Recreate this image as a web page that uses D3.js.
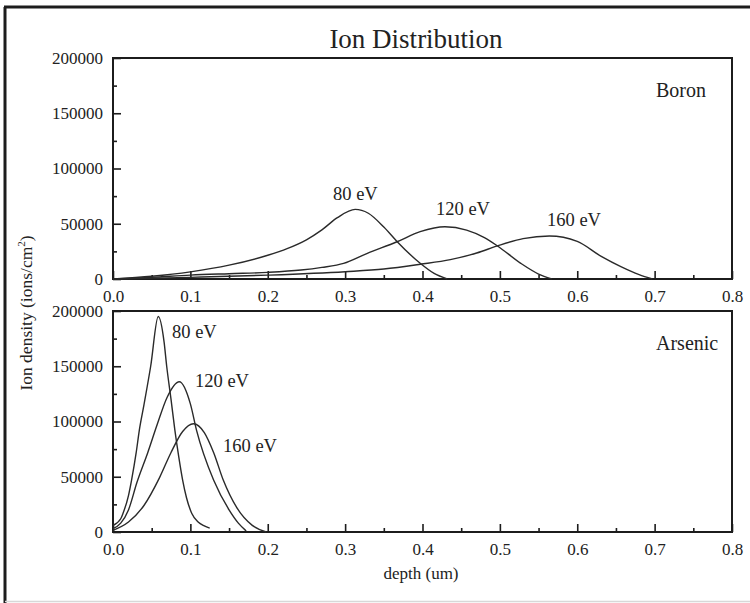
<!DOCTYPE html>
<html>
<head>
<meta charset="utf-8">
<script src="https://cdn.jsdelivr.net/npm/d3@7"></script>
<style>
  body { margin: 0; background: #fff; }
  svg { display: block; font-family: "Liberation Serif", "DejaVu Serif", serif; }
</style>
</head>
<body>
<svg id="chart" width="750" height="603"></svg>
<script>
// depth (um) and ion density (ions/cm^2)
var boron80x   = [0, 0.05, 0.1, 0.15, 0.2, 0.225, 0.25, 0.27, 0.29, 0.313, 0.33, 0.35, 0.367, 0.397, 0.415, 0.432];
var boron80y   = [0, 2500, 6500, 12500, 21500, 27500, 35500, 44500, 55500, 63000, 59500, 47000, 34000, 14200, 5000, 0];
var boron120x  = [0, 0.05, 0.1, 0.15, 0.2, 0.243, 0.27, 0.298, 0.328, 0.367, 0.397, 0.429, 0.457, 0.48, 0.497, 0.527, 0.55, 0.567];
var boron120y  = [0, 1500, 3500, 4800, 6000, 8100, 10500, 14100, 23000, 33700, 42800, 47300, 44300, 37500, 29900, 14200, 4500, 0];
var boron160x  = [0, 0.1, 0.2, 0.3, 0.35, 0.397, 0.436, 0.47, 0.497, 0.53, 0.564, 0.6, 0.631, 0.657, 0.68, 0.697];
var boron160y  = [0, 1500, 3500, 6600, 9000, 13300, 17500, 23500, 30000, 36500, 38900, 34000, 20500, 11000, 4000, 0];

var arsenic80x  = [0, 0.01, 0.013, 0.02, 0.024, 0.03, 0.034, 0.04, 0.0487, 0.0585, 0.066, 0.0694, 0.075, 0.08, 0.085, 0.09, 0.095, 0.1017, 0.11, 0.118, 0.125];
var arsenic80y  = [6000, 12000, 17000, 33000, 47000, 72000, 92000, 115000, 150000, 195000, 172000, 150000, 120000, 92000, 68000, 47000, 31000, 17000, 9000, 5500, 3500];
var arsenic120x = [0, 0.01, 0.02, 0.031, 0.045, 0.057, 0.07, 0.0857, 0.1, 0.108, 0.13, 0.15, 0.162, 0.172];
var arsenic120y = [3000, 8000, 20000, 45000, 72000, 97000, 122000, 136000, 116000, 92000, 47000, 20000, 8000, 1000];
var arsenic160x = [0, 0.02, 0.04, 0.06, 0.075, 0.09, 0.104, 0.118, 0.13, 0.1425, 0.16, 0.18, 0.198];
var arsenic160y = [1500, 9000, 24000, 49000, 72000, 91000, 98000, 90000, 72000, 47000, 22000, 6000, 0];

var energyLabels = ["80 eV", "120 eV", "160 eV"];
var panelNames = ["Boron", "Arsenic"];
var xTicks = [0, 0.1, 0.2, 0.3, 0.4, 0.5, 0.6, 0.7, 0.8];
var yTicks = [0, 50000, 100000, 150000, 200000];

var svg = d3.select("#chart");
var ink = "#1c1c1c";

// outer frame of the scanned figure
svg.append("line").attr("x1", 5).attr("y1", 7).attr("x2", 5).attr("y2", 603)
    .attr("stroke", ink).attr("stroke-width", 3);
svg.append("line").attr("x1", 4).attr("y1", 7).attr("x2", 750).attr("y2", 7)
    .attr("stroke", ink).attr("stroke-width", 3);
svg.append("line").attr("x1", 5).attr("y1", 601.5).attr("x2", 750).attr("y2", 601.5)
    .attr("stroke", "#d8d8d8").attr("stroke-width", 1.5);

var x = d3.scaleLinear().domain([0, 0.8]).range([113, 732]);

function zip(xs, ys) {
    return xs.map((d, i) => [d, ys[i]]);
}

var panels = [
    {name: panelNames[0], top: 58, bottom: 279,
     curves: [zip(boron80x, boron80y), zip(boron120x, boron120y), zip(boron160x, boron160y)],
     labels: [[333, 200], [436, 215], [547, 226]]},
    {name: panelNames[1], top: 311, bottom: 532,
     curves: [zip(arsenic80x, arsenic80y), zip(arsenic120x, arsenic120y), zip(arsenic160x, arsenic160y)],
     labels: [[172, 338], [195, 387], [223, 452]]}
];

panels.forEach(function(p) {
    var y = d3.scaleLinear().domain([0, 200000]).range([p.bottom, p.top]);
    var g = svg.append("g");

    // minor ticks
    g.append("g").attr("transform", "translate(0," + p.bottom + ")")
        .call(d3.axisBottom(x).tickValues(d3.range(0.05, 0.8, 0.1)).tickSize(-4).tickFormat(""))
        .call(a => a.select(".domain").remove());
    g.append("g").attr("transform", "translate(113,0)")
        .call(d3.axisLeft(y).tickValues([25000, 75000, 125000, 175000]).tickSize(-4).tickFormat(""))
        .call(a => a.select(".domain").remove());

    // major ticks + labels
    g.append("g").attr("transform", "translate(0," + p.bottom + ")")
        .call(d3.axisBottom(x).tickValues(xTicks).tickSize(-8).tickPadding(11).tickFormat(d3.format(".1f")))
        .call(a => a.select(".domain").remove());
    g.append("g").attr("transform", "translate(113,0)")
        .call(d3.axisLeft(y).tickValues(yTicks).tickSize(-8).tickPadding(10).tickFormat(d3.format("d")))
        .call(a => a.select(".domain").remove());

    g.selectAll(".tick line").attr("stroke", ink).attr("stroke-width", 1.6);
    g.selectAll(".tick text").attr("fill", "#222").attr("font-size", "17px")
        .attr("font-family", "Liberation Serif, serif");

    g.append("rect")
        .attr("x", 113).attr("y", p.top)
        .attr("width", 732 - 113).attr("height", p.bottom - p.top)
        .attr("fill", "none").attr("stroke", ink).attr("stroke-width", 2);

    var line = d3.line()
        .x(d => x(d[0]))
        .y(d => y(d[1]))
        .curve(d3.curveMonotoneX);

    g.selectAll("path.curve").data(p.curves).enter().append("path")
        .attr("class", "curve")
        .attr("d", line)
        .attr("fill", "none")
        .attr("stroke", "#2a2a2a")
        .attr("stroke-width", 1.4);

    g.selectAll("text.elabel").data(energyLabels).enter().append("text")
        .attr("class", "elabel")
        .attr("x", (d, i) => p.labels[i][0])
        .attr("y", (d, i) => p.labels[i][1])
        .attr("font-size", "18.5px")
        .attr("fill", "#222")
        .text(d => d);

    g.append("text")
        .attr("x", 656).attr("y", p.top + 39)
        .attr("font-size", "20px")
        .attr("fill", "#222")
        .text(p.name);
});

// title
svg.append("text")
    .attr("x", 416).attr("y", 48)
    .attr("text-anchor", "middle")
    .attr("font-size", "27px")
    .attr("fill", "#222")
    .text("Ion Distribution");

// x axis title
svg.append("text")
    .attr("x", 421).attr("y", 579)
    .attr("text-anchor", "middle")
    .attr("font-size", "17px")
    .attr("fill", "#222")
    .text("depth (um)");

// y axis title
var yl = svg.append("text")
    .attr("transform", "translate(32,313) rotate(-90)")
    .attr("text-anchor", "middle")
    .attr("font-size", "17.5px")
    .attr("fill", "#222");
yl.append("tspan").text("Ion density (ions/cm");
yl.append("tspan").attr("font-size", "11px").attr("dy", "-7").text("2");
yl.append("tspan").attr("dy", "7").text(")");
</script>
</body>
</html>
